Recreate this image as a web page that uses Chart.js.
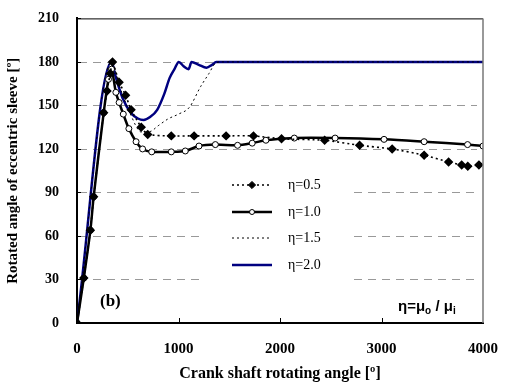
<!DOCTYPE html>
<html>
<head>
<meta charset="utf-8">
<script src="https://cdn.jsdelivr.net/npm/chart.js@4.4.0/dist/chart.umd.min.js"></script>
<style>
  html, body { margin: 0; padding: 0; background: #fff; }
  #wrap { width: 507px; height: 387px; }
</style>
</head>
<body>
<div id="wrap"><canvas id="sleeveChart" width="507" height="387"></canvas></div>
<script>
// values: [crank angle, sleeve angle]
const eta05 = [[0,0],[67,31],[132,64],[164,87],[263,145],[296,160],[328,172],[350,180],[415,166],[479,157],[533,147],[633,135],[697,130],[929,129],[1154,129],[1469,129],[1739,129],[2015,127],[2440,126],[2784,122.5],[3105,120],[3420,115.7],[3661,111],[3790,109],[3850,108],[3960,109]];
const eta10 = [[0,0],[67,31],[132,64],[164,87],[263,145],[310,168],[340,175],[383,159],[415,152],[456,144],[511,134],[582,125],[646,120],[736,118],[929,118],[1067,118.6],[1202,122],[1363,123],[1582,122.5],[1726,124],[1861,126],[2141,127.5],[2543,127.5],[3025,126.6],[3420,125],[3848,123],[4000,122]];
const eta15 = [[0,0],[340,180],[420,163],[520,145],[636,131.6],[720,132],[800,136],[897,140.7],[1000,144],[1106,148.6],[1218,163],[1300,172],[1363,179],[1420,180],[4000,180]];
const eta20 = [[0,0],[340,180],[380,170],[450,155],[530,145],[600,141],[656,140],[720,142],[790,147],[860,158],[913,169],[960,175],[1003,180],[1050,177],[1100,175],[1128,180],[1200,178],[1276,176],[1330,178],[1372,180],[4000,180]];

const xTicks = [0, 1000, 2000, 3000, 4000];
const yTicks = [0, 30, 60, 90, 120, 150, 180, 210];
const legendLabels = ['\u03b7=0.5', '\u03b7=1.0', '\u03b7=1.5', '\u03b7=2.0'];

const toPts = arr => arr.map(p => ({x: p[0], y: p[1]}));
const serif = 'Liberation Serif';

const ds05 = {
    label: legendLabels[0], data: toPts(eta05),
    borderColor: '#000', borderWidth: 1.6, borderDash: [2, 3],
    pointStyle: 'rectRot', pointRadius: 3.6, pointBackgroundColor: '#000', pointBorderColor: '#000',
    tension: 0.2, order: 1
};
const ds10 = {
    label: legendLabels[1], data: toPts(eta10),
    borderColor: '#000', borderWidth: 2.5,
    pointStyle: 'circle', pointRadius: 3, pointBackgroundColor: '#fff', pointBorderColor: '#000', pointBorderWidth: 1,
    tension: 0.3, order: 2
};
const ds15 = {
    label: legendLabels[2], data: toPts(eta15),
    borderColor: '#000', borderWidth: 1, borderDash: [2, 3],
    pointRadius: 0, cubicInterpolationMode: 'monotone', order: 3
};
const ds20 = {
    label: legendLabels[3], data: toPts(eta20),
    borderColor: '#000080', borderWidth: 2.5,
    pointRadius: 0, cubicInterpolationMode: 'monotone', order: 4
};

// dashed gridlines (left out behind the legend box), annotations and frame
const decor = {
    id: 'decor',
    beforeDatasetsDraw(chart) {
        const ctx = chart.ctx;
        const a = chart.chartArea;
        const ys = chart.scales.y;
        ctx.save();
        ctx.strokeStyle = '#999';
        ctx.lineWidth = 1;
        ctx.setLineDash([8, 6]);
        yTicks.slice(1, -1).forEach(v => {
            const py = Math.round(ys.getPixelForValue(v)) + 0.5;
            ctx.beginPath();
            if (py > 172 && py < 300) {
                ctx.moveTo(a.left + 2, py); ctx.lineTo(200, py);
                ctx.moveTo(354, py); ctx.lineTo(a.right - 6, py);
            } else {
                ctx.moveTo(a.left + 2, py); ctx.lineTo(a.right - 6, py);
            }
            ctx.stroke();
        });
        ctx.restore();
    },
    afterDraw(chart) {
        const ctx = chart.ctx;
        const a = chart.chartArea;
        const xs = chart.scales.x, ys = chart.scales.y;
        ctx.save();
        // frame top/right
        ctx.strokeStyle = '#000';
        ctx.lineWidth = 1;
        ctx.beginPath();
        ctx.moveTo(a.left, a.top + 0.5);
        ctx.lineTo(a.right, a.top + 0.5);
        ctx.stroke();
        ctx.strokeStyle = '#777';
        ctx.lineWidth = 1.5;
        ctx.beginPath();
        ctx.moveTo(a.right, a.top);
        ctx.lineTo(a.right, a.bottom);
        ctx.stroke();
        // inner tick marks
        ctx.strokeStyle = '#000';
        ctx.lineWidth = 1;
        xTicks.slice(1, -1).forEach(v => {
            const px = Math.round(xs.getPixelForValue(v)) + 0.5;
            ctx.beginPath();
            ctx.moveTo(px, a.bottom);
            ctx.lineTo(px, a.bottom - 5);
            ctx.stroke();
        });
        yTicks.slice(1).forEach(v => {
            const py = Math.round(ys.getPixelForValue(v)) + 0.5;
            ctx.beginPath();
            ctx.moveTo(a.left, py);
            ctx.lineTo(a.left + 4, py);
            ctx.stroke();
        });

        // legend
        const rows = [185, 212, 238, 265];
        const sets = [ds05, ds10, ds15, ds20];
        rows.forEach((y, i) => {
            const d = sets[i];
            ctx.strokeStyle = d.borderColor;
            ctx.lineWidth = d.borderWidth;
            ctx.setLineDash(d.borderDash || []);
            ctx.beginPath();
            ctx.moveTo(232, y);
            ctx.lineTo(272, y);
            ctx.stroke();
            ctx.setLineDash([]);
            if (d.pointRadius) {
                ctx.fillStyle = d.pointBackgroundColor;
                ctx.strokeStyle = d.pointBorderColor;
                ctx.lineWidth = 1;
                ctx.beginPath();
                if (d.pointStyle === 'rectRot') {
                    const r = d.pointRadius;
                    ctx.moveTo(252, y - r); ctx.lineTo(252 + r, y);
                    ctx.lineTo(252, y + r); ctx.lineTo(252 - r, y);
                    ctx.closePath();
                } else {
                    ctx.arc(252, y, 2.5, 0, Math.PI * 2);
                }
                ctx.fill();
                ctx.stroke();
            }
            ctx.fillStyle = '#000';
            ctx.font = '14px "' + serif + '"';
            ctx.textBaseline = 'middle';
            ctx.textAlign = 'left';
            ctx.fillText(legendLabels[i], 288, y);
        });

        // (b)
        ctx.font = 'bold 17px "' + serif + '"';
        ctx.textBaseline = 'middle';
        ctx.fillText('(b)', 100, 302);

        // eta = mu_o / mu_i
        ctx.font = 'bold 15px "Liberation Sans"';
        let x = 398;
        const y0 = 307;
        ctx.fillText('\u03b7=\u03bc', x, y0);
        x += ctx.measureText('\u03b7=\u03bc').width;
        ctx.font = 'bold 10px "Liberation Sans"';
        ctx.fillText('o', x, y0 + 4);
        x += ctx.measureText('o').width;
        ctx.font = 'bold 15px "Liberation Sans"';
        ctx.fillText(' / \u03bc', x, y0);
        x += ctx.measureText(' / \u03bc').width;
        ctx.font = 'bold 10px "Liberation Sans"';
        ctx.fillText('i', x, y0 + 4);
        ctx.restore();
    }
};

const ctxSleeve = document.getElementById('sleeveChart').getContext('2d');
new Chart(ctxSleeve, {
    type: 'line',
    data: { datasets: [ds05, ds10, ds15, ds20] },
    options: {
        responsive: false,
        animation: false,
        layout: { padding: { top: 15, right: 15, left: 0, bottom: 0 } },
        plugins: { legend: { display: false }, tooltip: { enabled: false } },
        scales: {
            x: {
                type: 'linear', min: 0, max: 4000,
                afterBuildTicks: s => { s.ticks = xTicks.map(v => ({value: v})); },
                afterFit: s => { s.height = 64; },
                grid: { display: false },
                border: { display: true, color: '#000', width: 2 },
                ticks: { color: '#000', font: { family: serif, size: 15, weight: 'bold' }, padding: 9, maxRotation: 0,
                         callback: v => String(v) },
                title: { display: true, text: 'Crank shaft rotating angle [\u00ba]', color: '#000',
                         font: { family: serif, size: 16, weight: 'bold' }, padding: { top: 6 } }
            },
            y: {
                min: 0, max: 210,
                afterBuildTicks: s => { s.ticks = yTicks.map(v => ({value: v})); },
                afterFit: s => { s.width = 77; },
                grid: { display: false },
                border: { display: true, color: '#000', width: 2 },
                ticks: { color: '#000', font: { family: serif, size: 14, weight: 'bold' }, padding: 10,
                         callback: v => String(v) },
                title: { display: true, text: 'Rotated angle of eccentric sleeve [\u00ba]', color: '#000',
                         font: { family: serif, size: 15, weight: 'bold' }, padding: { bottom: 4 } }
            }
        }
    },
    plugins: [decor]
});
</script>
</body>
</html>
